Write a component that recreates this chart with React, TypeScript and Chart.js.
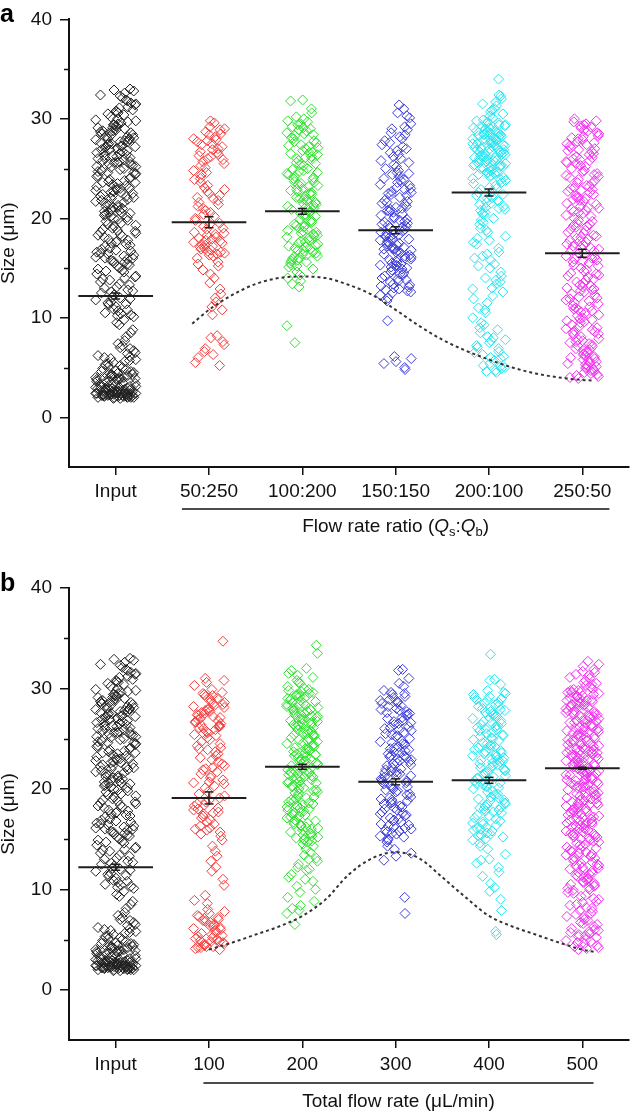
import { useEffect, useRef } from "react";
import { Chart, registerables } from "chart.js";

Chart.register(...registerables);

const FONT = '"Liberation Sans", Arial, Helvetica, sans-serif';

// ---------- categories & ticks ----------
const CATS_A = ["Input", "50:250", "100:200", "150:150", "200:100", "250:50"];
const CATS_B = ["Input", "100", "200", "300", "400", "500"];
const Y_TICKS = [0, 10, 20, 30, 40];
const Y_MINOR = [5, 15, 25, 35];
const COLORS = ["#202020", "#f23c3c", "#2ee02e", "#3c3cd8", "#28e4ef", "#ee30ee"];

// ---------- measured sizes (µm) ----------
const INPUT_SIZES = [
  2.1, 2.3, 1.9, 2.6, 2.2, 2.8, 2.4, 2.0, 3.1, 2.5, 2.2, 2.7, 2.9, 2.3, 2.1, 3.3, 2.6, 2.4, 2.0, 2.8,
  2.2, 2.5, 3.0, 2.3, 2.7, 1.9, 2.4, 2.6, 3.2, 2.1, 2.9, 2.2, 2.5, 2.8, 2.3, 3.4, 2.0, 2.6, 2.4, 2.7,
  2.2, 3.0, 2.5, 2.1, 2.8, 2.3, 2.6, 3.5, 2.4, 2.2, 2.9, 2.0, 2.7, 2.5, 3.1, 2.3, 2.6, 2.1, 2.8, 2.4,
  3.3, 2.2, 2.5, 3.6, 2.9, 2.3, 2.7, 2.0, 3.0, 2.4,
  3.7, 4.1, 3.9, 4.5, 3.8, 4.8, 5.2, 4.3, 3.9, 5.6, 4.0, 4.6, 6.1, 3.8, 5.0, 4.4, 5.4, 4.2, 6.4, 3.9, 4.7, 5.8, 4.1, 5.3, 6.0,
  3.6, 4.0, 4.3, 4.9, 5.5, 3.8, 4.2, 5.1, 5.7, 6.2, 4.6, 3.9, 4.4, 5.9, 6.5,
  6.7, 7.4, 8.1, 7.0, 8.8, 9.3, 7.7, 9.8, 8.5, 6.9, 9.5, 7.2,
  10.2, 11.5, 12.8, 10.8, 13.6, 11.1, 14.2, 12.3, 10.5, 13.0, 14.7, 11.8, 12.6, 13.9, 10.9, 14.4, 12.1, 11.3, 13.3, 14.9, 12.5, 10.4, 13.8, 11.6, 14.1,
  10.1, 10.7, 11.4, 12.0, 12.7, 13.4, 14.0, 14.6, 10.3, 11.9, 13.1, 14.8,
  15.2, 16.4, 17.8, 15.9, 18.6, 16.8, 19.3, 15.5, 17.2, 18.1, 19.7, 16.1, 17.5, 18.9, 15.7, 16.6, 19.0, 17.9, 15.3, 18.3, 16.9, 19.5, 17.0, 15.8, 18.7, 16.3, 19.9, 17.4, 18.4, 16.0,
  15.0, 15.6, 16.2, 16.7, 17.3, 17.7, 18.2, 18.8, 19.4, 19.8, 15.4, 16.5, 17.6, 18.5, 19.2, 16.0,
  20.3, 21.5, 22.8, 20.9, 23.6, 21.1, 24.2, 22.3, 20.6, 23.0, 24.7, 21.8, 22.6, 23.9, 20.2, 24.4, 22.1, 21.3, 23.3, 24.9, 22.5, 20.8, 23.8, 21.6, 24.1, 20.5, 22.9, 21.0, 23.5, 24.6, 21.9, 20.1, 22.2, 23.1, 24.5,
  20.0, 20.4, 20.7, 21.2, 21.7, 22.0, 22.4, 22.7, 23.2, 23.4, 23.7, 24.0, 24.3, 24.8, 20.6, 21.4, 22.6, 23.6, 24.6, 21.1, 22.2, 23.0,
  25.3, 26.5, 27.8, 25.9, 28.6, 26.1, 29.2, 27.3, 25.6, 28.0, 29.7, 26.8, 27.6, 28.9, 25.2, 29.4, 27.1, 26.3, 28.3, 29.9, 27.5, 25.8, 28.8, 26.6, 29.1, 25.5, 27.9, 26.0, 28.5, 29.6, 26.9, 25.1, 27.2, 28.1, 29.5, 26.4, 27.7, 28.4, 25.7, 29.0,
  25.0, 25.4, 25.7, 26.2, 26.7, 27.0, 27.4, 27.7, 28.2, 28.7, 29.3, 29.8, 25.6, 26.0, 26.6, 27.2, 27.9, 28.4, 28.8, 29.4, 25.2, 26.3, 27.5, 28.0, 29.1, 26.9, 27.3, 28.6,
  30.2, 31.4, 32.8, 30.6, 31.9, 32.3, 30.9, 31.1, 32.6, 30.4, 31.6, 33.0, 30.7, 32.1,
  30.0, 30.5, 31.2, 31.8, 32.4, 30.8, 31.5, 32.9,
];

const RATIO_50_250 = [
  5.2, 5.5, 6.0, 6.3, 6.6, 6.9, 7.3, 7.6, 8.0, 8.2,
  10.3, 10.8, 11.1, 11.6, 12.0, 12.4, 12.9, 13.5, 14.0, 14.4, 14.8,
  15.2, 15.6, 16.0, 16.3, 16.5, 16.7, 16.9, 17.1, 17.4, 17.6, 17.8, 18.0, 18.3, 18.6, 18.9, 19.2, 19.5, 19.8, 15.4, 16.2, 17.0, 17.3, 18.5, 19.0, 16.8,
  16.4, 17.2, 17.5, 17.9, 18.1, 18.4, 16.6, 17.7, 19.4,
  20.2, 20.6, 21.0, 21.4, 21.8, 22.1, 22.5, 22.9, 23.3, 23.6, 24.0, 24.4, 24.8, 20.8, 21.6, 22.7, 23.9, 24.6, 20.4, 22.3,
  20.0, 21.2, 22.0, 23.1,
  25.1, 25.5, 25.9, 26.2, 26.6, 26.9, 27.2, 27.5, 27.9, 28.2, 28.5, 28.9, 29.2, 29.6, 29.8, 25.7, 26.4, 27.0, 27.7, 28.4, 29.0, 26.0,
  25.3, 26.7, 27.4, 28.0, 28.7, 26.3, 27.8,
];

const RATIO_100_200 = [
  7.5, 9.2, 13.1, 13.4, 13.7, 14.0, 14.3, 14.6, 14.9,
  15.1, 15.3, 15.6, 15.8, 16.0, 16.2, 16.5, 16.7, 16.9, 17.1, 17.3, 17.6, 17.8, 18.0, 18.2, 18.4, 18.7, 18.9, 19.1, 19.3, 19.6, 19.8,
  15.5, 16.4, 17.4, 18.5, 19.4, 16.1, 17.0, 18.1, 19.0, 15.9, 17.7, 18.8, 19.9, 15.2, 16.6, 17.2,
  15.7, 16.3, 16.8, 17.5, 18.3, 18.6, 19.2, 19.7,
  20.0, 20.2, 20.4, 20.6, 20.8, 21.0, 21.3, 21.5, 21.7, 21.9, 22.1, 22.4, 22.6, 22.8, 23.0, 23.3, 23.5, 23.7, 24.0, 24.2, 24.5, 24.7, 24.9,
  20.5, 21.2, 22.0, 22.9, 23.9, 24.4, 20.9, 21.8, 22.7, 23.4, 24.6, 21.4,
  20.3, 20.7, 21.1, 21.6, 22.2, 22.5, 23.2, 23.6, 24.1, 24.8,
  25.0, 25.3, 25.6, 25.9, 26.2, 26.5, 26.8, 27.1, 27.4, 27.7, 28.0, 28.3, 28.6, 28.9, 29.2, 29.5, 29.8,
  25.4, 26.0, 26.7, 27.3, 28.1, 28.8, 29.4, 25.8, 26.4, 27.6, 28.5, 29.0, 27.0,
  25.5, 26.1, 26.6, 27.2, 27.8, 28.4, 29.1, 29.7, 30.0,
  30.2, 30.6, 31.0, 31.8, 31.9,
];

const RATIO_150_150 = [
  4.8, 5.0, 5.4, 5.6, 5.9, 6.1, 9.7,
  11.7, 12.0, 12.3, 12.5, 12.8, 13.0, 13.2, 13.4, 13.6, 13.8, 14.0, 14.2, 14.4, 14.6, 14.8, 12.6, 13.3, 13.9, 14.5, 12.9,
  13.1, 13.7, 14.3, 14.9, 12.7,
  15.0, 15.2, 15.4, 15.6, 15.8, 16.0, 16.2, 16.4, 16.6, 16.8, 17.0, 17.2, 17.4, 17.6, 17.8, 18.0, 18.2, 18.4, 18.6, 18.8, 19.0, 19.2, 19.4, 19.6, 19.8,
  15.1, 15.5, 15.9, 16.3, 16.7, 17.1, 17.5, 17.9, 18.3, 18.7, 19.1, 19.5, 19.9, 15.3, 16.5, 17.3, 18.1, 18.9, 19.7, 16.9,
  15.7, 16.1, 16.9, 17.7, 18.5, 19.3, 15.3, 17.0, 18.2,
  20.0, 20.3, 20.6, 20.9, 21.2, 21.5, 21.8, 22.1, 22.4, 22.7, 23.0, 23.3, 23.6, 23.9, 24.2, 24.5, 24.8,
  20.4, 21.0, 21.7, 22.3, 23.1, 23.8, 24.6, 20.7, 21.4, 22.9, 24.0, 21.1, 22.6,
  20.1, 20.8, 21.6, 22.5, 23.4, 24.4,
  25.0, 25.4, 25.8, 26.2, 26.6, 27.0, 27.4, 27.8, 28.2, 28.6, 29.0, 29.5, 30.1, 30.6, 31.0, 31.4, 25.6, 26.4, 27.2, 28.0, 28.9, 30.3,
  25.2, 26.0, 26.8, 27.6, 28.4, 29.2,
];

const RATIO_200_100 = [
  4.5, 4.7, 4.9, 5.1, 5.4, 5.7, 6.0, 6.3, 6.6, 6.9, 7.2, 7.5, 7.8, 8.1, 8.5, 9.0, 9.5, 10.0, 10.5, 11.0, 11.5, 11.9,
  4.6, 5.2, 5.9, 6.5, 7.0, 8.0, 9.3, 10.8, 5.0, 6.1, 7.7, 8.8,
  12.2, 12.6, 13.0, 13.4, 13.8, 14.2, 14.6, 15.0, 15.4, 15.8, 16.2, 16.6, 17.0, 17.4, 17.8, 18.2, 18.6, 19.0, 19.4, 19.8,
  12.9, 14.0, 15.2, 16.4, 17.6, 18.8, 19.6, 13.6, 16.0, 18.0,
  20.0, 20.3, 20.6, 20.9, 21.2, 21.5, 21.8, 22.1, 22.4, 22.7, 23.0, 23.3, 23.6, 23.9, 24.2, 24.5, 24.8,
  20.5, 21.0, 21.7, 22.3, 23.1, 23.8, 24.6, 20.8, 21.4, 22.9, 24.0, 21.1, 22.6, 22.0, 23.5, 21.6,
  25.0, 25.2, 25.4, 25.6, 25.8, 26.0, 26.2, 26.4, 26.6, 26.8, 27.0, 27.2, 27.4, 27.6, 27.8, 28.0, 28.2, 28.4, 28.6, 28.8, 29.0, 29.2, 29.4, 29.6, 29.8,
  25.1, 25.5, 25.9, 26.3, 26.7, 27.1, 27.5, 27.9, 28.3, 28.7, 29.1, 29.5, 29.9, 25.3, 26.1, 26.9, 27.7, 28.5, 26.5, 27.3,
  24.1, 24.3, 24.7, 24.9, 25.2, 25.5, 25.8, 26.1, 26.4, 26.7, 27.0, 27.3, 27.6, 27.9, 28.2, 28.5, 28.8, 29.1, 29.4, 29.7, 25.0, 26.0, 27.0, 28.0, 29.0,
  24.4, 24.6, 25.3, 25.7, 26.2, 26.6, 27.1, 27.5, 28.1, 28.4, 28.9, 29.3, 26.9, 27.8, 28.6,
  30.1, 30.5, 30.9, 31.3, 31.7, 32.0, 32.3, 30.3, 31.0, 30.7, 31.5, 32.4, 34.0,
];

const RATIO_250_50 = [
  3.9, 4.1, 4.3, 4.5, 4.7, 4.9, 5.1, 5.3, 5.5, 5.7, 5.9, 6.1, 6.3, 6.5, 6.7, 6.9, 7.1, 7.3, 7.5, 7.7, 7.9, 8.1, 8.3, 8.5, 8.7, 8.9, 9.1, 9.3, 9.5, 9.7, 9.9,
  4.2, 4.8, 5.4, 6.0, 6.6, 7.2, 7.8, 8.4, 9.0, 9.6, 4.4, 5.0, 5.6, 6.2, 6.8, 7.4, 8.6, 4.6, 5.8,
  5.2, 6.4, 7.6, 8.8, 9.8, 4.0,
  10.0, 10.3, 10.6, 10.9, 11.2, 11.5, 11.8, 12.1, 12.4, 12.7, 13.0, 13.3, 13.6, 13.9, 14.2, 14.5, 14.8,
  10.2, 10.8, 11.4, 12.0, 12.6, 13.2, 13.8, 14.4, 10.5, 11.1, 11.7, 12.3, 12.9, 13.5, 14.1, 14.7, 11.0, 12.8,
  10.7, 11.9, 13.1, 14.3,
  15.0, 15.3, 15.6, 15.9, 16.2, 16.5, 16.8, 17.1, 17.4, 17.7, 18.0, 18.3, 18.6, 18.9, 19.2, 19.5, 19.8,
  15.2, 15.8, 16.4, 17.0, 17.6, 18.2, 18.8, 19.4, 15.5, 16.1, 16.7, 17.3, 17.9, 18.5, 19.1, 19.7, 16.0, 17.8,
  15.7, 16.9, 18.1, 19.3, 17.2,
  20.0, 20.3, 20.6, 20.9, 21.2, 21.5, 21.8, 22.1, 22.4, 22.7, 23.0, 23.3, 23.6, 23.9, 24.2, 24.5, 24.8,
  20.2, 20.8, 21.4, 22.0, 22.6, 23.2, 23.8, 24.4, 20.5, 21.1, 21.7, 22.3, 22.9, 23.5, 24.1, 24.7, 21.0, 22.8,
  20.7, 21.9, 23.1, 24.3, 22.1,
  25.0, 25.3, 25.6, 25.9, 26.2, 26.5, 26.8, 27.1, 27.4, 27.7, 28.0, 28.3, 28.6, 28.9, 29.2, 29.5, 29.8,
  25.2, 25.8, 26.4, 27.0, 27.6, 28.2, 28.8, 29.4, 25.5, 26.1, 26.7, 27.3, 27.9, 28.5, 29.1, 29.7, 26.0, 30.0,
  25.7, 26.9, 28.1, 29.3, 27.5,
];

const FLOW_100 = [
  4.0, 4.1, 4.2, 4.3, 4.4, 4.5, 4.6, 4.7, 4.8, 5.0, 5.2, 5.4, 5.5, 5.7, 5.9, 6.0, 6.2, 6.4, 6.5, 6.7, 6.9, 7.0, 7.2, 7.4, 7.6, 7.8, 8.0,
  4.2, 4.9, 5.6, 6.1, 6.8, 7.3, 8.6, 8.9, 4.3, 4.5, 4.8, 5.1, 5.3, 6.3, 7.1,
  9.4, 10.4, 11.0, 12.8, 13.3, 14.3, 14.9, 11.8, 12.2, 13.8,
  15.3, 15.7, 16.1, 16.5, 16.9, 17.3, 17.7, 18.1, 18.5, 18.9, 19.3, 19.7, 15.5, 16.3, 17.1, 17.9, 18.7, 19.5, 16.7, 18.3, 15.9, 17.5, 19.1, 16.0, 18.0,
  17.6, 18.4,
  20.1, 20.5, 20.9, 21.3, 21.7, 22.1, 22.5, 22.9, 23.3, 23.7, 24.1, 24.5, 24.9, 20.3, 21.1, 21.9, 22.7, 23.5, 24.3, 20.7, 22.3, 23.9, 21.5, 23.1, 24.7,
  20.6, 22.0, 24.0,
  25.1, 25.4, 25.7, 26.0, 26.3, 26.6, 26.9, 27.2, 27.5, 27.8, 28.1, 28.4, 28.7, 29.0, 29.3, 29.6, 29.9,
  25.3, 25.9, 26.5, 27.1, 27.7, 28.3, 28.9, 29.5, 26.2, 26.8, 27.4, 28.0, 28.6, 25.6, 26.4, 27.0, 27.6, 28.2, 29.2, 26.1, 27.9, 30.3, 30.6,
  25.5, 26.2, 26.7, 27.3, 28.5, 29.4,
  31.0, 30.8, 34.7,
];

const FLOW_200 = [
  6.5, 7.6, 7.9, 8.1, 8.4, 9.2, 9.7, 10.3, 10.8, 11.2, 11.5, 11.9, 12.2, 12.5, 12.8, 13.1, 13.4, 13.7, 14.0, 10.0, 11.0, 12.0, 13.0, 8.8, 14.3,
  14.5, 14.7, 14.9, 15.1, 15.3, 15.5, 15.7, 15.9, 16.1, 16.3, 16.5, 16.7, 16.9, 17.1, 17.3, 17.5, 17.7, 17.9, 18.1, 18.3, 18.5, 18.7, 18.9, 19.1, 19.3, 19.5, 19.7, 19.9,
  15.0, 15.6, 16.2, 16.8, 17.4, 18.0, 18.6, 19.2, 19.8, 15.4, 16.6, 17.8, 19.0, 14.8, 16.0, 17.2, 18.4,
  15.2, 16.4, 17.6, 18.8, 19.6, 18.2,
  20.0, 20.2, 20.4, 20.6, 20.8, 21.0, 21.2, 21.4, 21.6, 21.8, 22.0, 22.2, 22.4, 22.6, 22.8, 23.0, 23.2, 23.4, 23.6, 23.8, 24.0, 24.2, 24.4, 24.6, 24.8,
  20.1, 20.5, 20.9, 21.3, 21.7, 22.1, 22.5, 22.9, 23.3, 23.7, 24.1, 24.5, 24.9, 20.3, 21.1, 21.9, 22.7, 23.5, 24.3, 20.7, 22.3, 23.9, 21.5, 23.1, 24.7,
  20.6, 21.2, 22.0, 22.8, 23.4, 24.0, 21.6,
  25.0, 25.2, 25.4, 25.6, 25.8, 26.0, 26.2, 26.4, 26.6, 26.8, 27.0, 27.2, 27.4, 27.6, 27.8, 28.0, 28.2, 28.4, 28.6, 28.8, 29.0, 29.2, 29.4, 29.6, 29.8,
  25.1, 25.5, 25.9, 26.3, 26.7, 27.1, 27.5, 27.9, 28.3, 28.7, 29.1, 29.5, 29.9, 25.3, 26.1, 26.9, 27.7, 28.5, 29.3, 25.7, 27.3, 28.9, 26.5, 28.1, 29.7,
  25.4, 26.4, 27.4, 28.4, 29.4, 28.0, 27.0,
  30.2, 30.5, 30.8, 31.1, 31.5, 31.8, 32.0, 31.3, 30.6, 33.5, 34.3, 30.0,
];

const FLOW_300 = [
  7.6, 9.2, 12.9, 13.3, 13.6, 14.0, 14.3, 14.7,
  15.0, 15.3, 15.6, 15.9, 16.2, 16.5, 16.8, 17.1, 17.4, 17.7, 18.0, 18.3, 18.6, 18.9, 19.2, 19.5, 19.8,
  15.2, 15.8, 16.4, 17.0, 17.6, 18.2, 18.8, 19.4, 15.5, 16.7, 17.9, 19.1, 16.1, 17.3, 18.5, 19.7, 16.0, 18.1,
  14.9, 15.7, 16.3, 17.5, 18.7, 19.9, 16.9, 19.0,
  20.0, 20.3, 20.6, 20.9, 21.2, 21.5, 21.8, 22.1, 22.4, 22.7, 23.0, 23.3, 23.6, 23.9, 24.2, 24.5, 24.8,
  20.2, 20.8, 21.4, 22.0, 22.6, 23.2, 23.8, 24.4, 20.5, 21.7, 22.9, 24.1, 21.1, 22.3, 23.5, 24.7, 20.1, 21.9, 23.7, 21.0, 22.5, 24.0, 23.1,
  20.7, 21.6, 22.8, 23.3, 24.6, 21.3,
  25.0, 25.3, 25.6, 25.9, 26.2, 26.5, 26.8, 27.1, 27.4, 27.7, 28.0, 28.3, 28.6, 28.9, 29.2, 29.5, 29.8,
  25.2, 25.8, 26.4, 27.0, 27.6, 28.2, 28.8, 29.4, 25.5, 26.7, 27.9, 29.1, 26.1, 27.3, 28.5, 26.0, 27.8, 29.6,
  25.4, 26.6, 27.5, 28.7,
  30.2, 30.5, 31.0, 31.8, 31.9,
];

const FLOW_400 = [
  5.5, 5.8, 7.9, 9.0, 9.8, 10.2, 10.6, 11.3, 11.7, 12.2, 12.6, 13.0, 13.5, 14.0, 14.3, 14.6, 12.9, 14.9,
  15.0, 15.3, 15.6, 15.9, 16.2, 16.5, 16.8, 17.1, 17.4, 17.7, 18.0, 18.3, 18.6, 18.9, 19.2, 19.5, 19.8,
  15.2, 15.8, 16.4, 17.0, 17.6, 18.2, 18.8, 19.4, 15.5, 16.7, 17.9, 19.1, 16.1, 17.3, 18.5, 19.7, 16.0, 18.1,
  15.4, 16.6, 17.8, 19.0, 18.4,
  20.0, 20.2, 20.4, 20.6, 20.8, 21.0, 21.2, 21.4, 21.6, 21.8, 22.0, 22.2, 22.4, 22.6, 22.8, 23.0, 23.2, 23.4, 23.6, 23.8, 24.0, 24.2, 24.4, 24.6, 24.8,
  20.1, 20.5, 20.9, 21.3, 21.7, 22.1, 22.5, 22.9, 23.3, 23.7, 24.1, 24.5, 24.9, 20.3, 21.5, 22.7, 23.9, 21.1, 22.3, 23.5,
  20.7, 21.9, 23.1, 24.3, 22.9,
  25.0, 25.3, 25.6, 25.9, 26.2, 26.5, 26.8, 27.1, 27.4, 27.7, 28.0, 28.3, 28.6, 28.9, 29.2, 29.5, 29.8,
  25.2, 25.8, 26.4, 27.0, 27.6, 28.2, 28.8, 29.4, 25.5, 26.7, 27.9, 29.1, 26.1, 27.3, 28.5, 26.0, 27.8, 29.6, 25.1, 26.3, 27.5,
  25.4, 26.6, 27.2, 28.4, 29.0,
  30.4, 30.8, 30.9, 33.4,
];

const FLOW_500 = [
  4.0, 4.2, 4.4, 4.6, 4.8, 5.0, 5.2, 5.4, 5.6, 5.8, 6.0, 6.3, 6.6, 6.9, 7.2, 7.5, 7.8, 8.1, 8.4, 8.7, 9.0, 9.3, 9.6, 9.9,
  4.3, 4.9, 5.5, 6.1, 6.7, 7.3, 7.9, 8.5, 9.1, 9.7, 5.7,
  4.1, 4.7, 5.3, 5.9, 6.5, 7.0, 7.6, 8.2, 8.8, 9.4,
  10.0, 10.2, 10.4, 10.6, 10.8, 11.0, 11.2, 11.4, 11.6, 11.8, 12.0, 12.2, 12.4, 12.6, 12.8, 13.0, 13.2, 13.4, 13.6, 13.8, 14.0, 14.2, 14.4, 14.6, 14.8,
  10.1, 10.5, 10.9, 11.3, 11.7, 12.1, 12.5, 12.9, 13.3, 13.7, 14.1, 14.5, 14.9, 11.5, 13.1,
  10.3, 10.7, 11.1, 11.9, 12.3, 12.7, 13.5, 13.9, 14.3, 14.7,
  15.0, 15.2, 15.4, 15.6, 15.8, 16.0, 16.2, 16.4, 16.6, 16.8, 17.0, 17.2, 17.4, 17.6, 17.8, 18.0, 18.2, 18.4, 18.6, 18.8, 19.0, 19.2, 19.4, 19.6, 19.8,
  15.1, 15.3, 15.5, 15.7, 15.9, 16.1, 16.3, 16.5, 16.7, 16.9, 17.1, 17.3, 17.5, 17.7, 17.9, 18.1, 18.3, 18.5, 18.7, 18.9, 19.1, 19.3, 19.5, 19.7, 19.9,
  15.6, 16.6, 17.6, 18.6, 19.6, 15.2, 16.4, 17.0, 18.0, 19.0, 16.0, 17.4, 18.4, 19.4,
  20.0, 20.2, 20.4, 20.6, 20.8, 21.0, 21.2, 21.4, 21.6, 21.8, 22.0, 22.2, 22.4, 22.6, 22.8, 23.0, 23.2, 23.4, 23.6, 23.8, 24.0, 24.2, 24.4, 24.6, 24.8,
  20.1, 20.3, 20.5, 20.7, 20.9, 21.1, 21.3, 21.5, 21.7, 21.9, 22.1, 22.3, 22.5, 22.7, 22.9, 23.1, 23.3, 23.5, 23.7, 23.9, 24.1, 24.3, 24.5, 24.7, 24.9,
  20.4, 21.4, 22.4, 23.4, 24.4, 20.9, 21.9, 22.9, 23.9, 24.9,
  20.6, 21.6, 22.0, 22.6, 23.0, 23.6, 24.0, 24.6, 21.0, 23.2, 20.2, 21.8, 23.8,
  25.0, 25.2, 25.4, 25.6, 25.8, 26.0, 26.2, 26.4, 26.6, 26.8, 27.0, 27.2, 27.4, 27.6, 27.8, 28.0, 28.2, 28.4, 28.6, 28.8, 29.0, 29.2, 29.4, 29.6, 29.8,
  25.1, 25.3, 25.5, 25.7, 25.9, 26.1, 26.3, 26.5, 26.7, 26.9, 27.1, 27.3, 27.5, 27.7, 27.9, 28.1, 28.3, 28.5, 28.7, 28.9, 29.1, 29.3, 29.5, 29.7, 29.9,
  25.6, 26.6, 27.6, 28.6, 29.6,
  25.2, 25.8, 26.2, 26.8, 27.2, 27.8, 28.2, 28.8, 29.2, 29.8, 26.0, 27.4, 28.4,
  30.1, 30.3, 30.5, 30.8, 31.0, 31.3, 31.6, 31.9, 32.2, 32.7, 30.6, 31.4, 30.0, 30.4, 31.1, 31.7, 32.4,
];

// ---------- means & standard errors ----------
const MEAN_A = [12.2, 19.6, 20.7, 18.8, 22.6, 16.5];
const ERR_A = [0.3, 0.55, 0.3, 0.35, 0.35, 0.4];
const MEAN_B = [12.2, 19.1, 22.2, 20.7, 20.85, 22.05];
const ERR_B = [0.3, 0.6, 0.25, 0.3, 0.3, 0.1];

// ---------- fitted curves ----------
const FIT_A_X = [0.82, 1.0, 1.25, 1.5, 1.75, 2.0, 2.25, 2.5, 2.75, 3.0, 3.25, 3.5, 3.75, 4.0, 4.25, 4.5, 4.75, 5.0, 5.1];
const FIT_A_Y = [9.4, 10.8, 12.3, 13.4, 14.0, 14.15, 14.0, 13.3, 12.3, 10.8, 9.2, 7.8, 6.7, 5.8, 5.0, 4.4, 4.0, 3.75, 3.7];
const FIT_B_X = [1.0, 1.25, 1.5, 1.75, 2.0, 2.25, 2.5, 2.75, 3.0, 3.25, 3.5, 3.75, 4.0, 4.25, 4.5, 4.75, 5.0, 5.14];
const FIT_B_Y = [4.0, 4.7, 5.5, 6.3, 7.35, 9.0, 11.5, 13.1, 13.7, 13.1, 11.2, 9.2, 7.35, 6.3, 5.5, 4.7, 4.0, 3.75];

// ---------- axis titles ----------
const TITLE_A: [string, string][] = [["Flow rate ratio (", "n"], ["Q", "i"], ["s", "sub"], [":", "n"], ["Q", "i"], ["b", "sub"], [")", "n"]];
const TITLE_B: [string, string][] = [["Total flow rate (\u03bcL/min)", "n"]];
const Y_TITLE = "Size (\u03bcm)";

// horizontal scatter offsets (fraction of column half-width)
const JITTER = [0.12, -0.55, 0.83, -0.21, 0.40, -0.92, 0.05, 0.67, -0.38, 0.26, -0.74, 0.95, -0.08, 0.51, -0.47, 0.18, -0.63, 0.74, -0.15, 0.33, -0.86, 0.59, -0.29, 0.02, 0.88, -0.51, 0.22, -0.97, 0.44, -0.11, 0.70, -0.34, 0.09, -0.69, 0.57, -0.24, 0.98];
const SPREAD = [0.22, 0.17, 0.17, 0.17, 0.18, 0.18];
const MEAN_HALF = 0.4;

const PANELS = [
  {
    letter: "a", cats: CATS_A,
    groups: [INPUT_SIZES, RATIO_50_250, RATIO_100_200, RATIO_150_150, RATIO_200_100, RATIO_250_50],
    mean: MEAN_A, err: ERR_A, fitX: FIT_A_X, fitY: FIT_A_Y, title: TITLE_A,
    line: [0.71, 5.29], top: 0, padTop: 14, xAxisH: 90, ulOff: 42, titleOff: 60,
  },
  {
    letter: "b", cats: CATS_B,
    groups: [INPUT_SIZES, FLOW_100, FLOW_200, FLOW_300, FLOW_400, FLOW_500],
    mean: MEAN_B, err: ERR_B, fitX: FIT_B_X, fitY: FIT_B_Y, title: TITLE_B,
    line: [0.94, 5.12], top: 557, padTop: 31, xAxisH: 74, ulOff: 43, titleOff: 62,
  },
];

function decorPlugin(p: any) {
  return {
    id: "decor" + p.letter,
    afterDraw(chart: any) {
      const ctx = chart.ctx;
      const { left, top, bottom } = chart.chartArea;
      const xs = chart.scales.x;
      const ys = chart.scales.y;
      ctx.save();
      ctx.strokeStyle = "#111";
      ctx.fillStyle = "#111";
      ctx.lineWidth = 1.5;
      Y_MINOR.forEach((v) => {
        const y = Math.round(ys.getPixelForValue(v)) + 0.5;
        ctx.beginPath();
        ctx.moveTo(left - 5, y);
        ctx.lineTo(left, y);
        ctx.stroke();
      });
      ctx.fillStyle = "#000";
      ctx.font = `bold 25px ${FONT}`;
      ctx.textAlign = "left";
      ctx.textBaseline = "alphabetic";
      ctx.fillText(p.letter, 0, top + 3);
      ctx.fillStyle = "#111";
      ctx.save();
      ctx.translate(9, (top + bottom) / 2);
      ctx.rotate(-Math.PI / 2);
      ctx.font = `19px ${FONT}`;
      ctx.textAlign = "center";
      ctx.textBaseline = "middle";
      ctx.fillText(Y_TITLE, 0, 0);
      ctx.restore();
      const x0 = xs.getPixelForValue(p.line[0]);
      const x1 = xs.getPixelForValue(p.line[1]);
      const uy = bottom + p.ulOff;
      ctx.lineWidth = 1.6;
      ctx.beginPath();
      ctx.moveTo(x0, uy);
      ctx.lineTo(x1, uy);
      ctx.stroke();
      const fontFor = (s: string) =>
        s === "i" ? `italic 19px ${FONT}` : s === "sub" ? `13px ${FONT}` : `19px ${FONT}`;
      let total = 0;
      p.title.forEach(([t, s]: [string, string]) => {
        ctx.font = fontFor(s);
        total += ctx.measureText(t).width;
      });
      let x = (x0 + x1) / 2 - total / 2;
      const ty = bottom + p.titleOff;
      ctx.textAlign = "left";
      ctx.textBaseline = "middle";
      p.title.forEach(([t, s]: [string, string]) => {
        ctx.font = fontFor(s);
        ctx.fillText(t, x, s === "sub" ? ty + 5 : ty);
        x += ctx.measureText(t).width;
      });
      ctx.restore();
    },
  };
}

function buildConfig(p: any): any {
  const datasets: any[] = [];
  datasets.push({
    data: p.fitX.map((x: number, i: number) => ({ x, y: p.fitY[i] })),
    showLine: true, borderColor: "#333", borderWidth: 2, borderDash: [3, 3],
    pointRadius: 0, cubicInterpolationMode: "monotone", fill: false,
  });
  p.mean.forEach((m: number, g: number) => {
    datasets.push({
      data: [{ x: g - MEAN_HALF, y: m }, { x: g + MEAN_HALF, y: m }],
      showLine: true, borderColor: "#1e1e1e", borderWidth: 2, pointRadius: 0,
    });
    datasets.push({
      data: [{ x: g, y: m - p.err[g] }, { x: g, y: m + p.err[g] }],
      showLine: true, borderColor: "#1e1e1e", borderWidth: 1.5,
      pointStyle: "line", pointRadius: 4.5, pointBorderWidth: 1.5, pointBorderColor: "#1e1e1e",
    });
  });
  p.groups.forEach((vals: number[], g: number) => {
    datasets.push({
      data: vals.map((y, i) => ({ x: g + JITTER[(i * 13 + g * 7) % JITTER.length] * SPREAD[g], y })),
      showLine: false, pointStyle: "rectRot", pointRadius: 5, pointBorderWidth: 1,
      pointBorderColor: COLORS[g], pointBackgroundColor: "rgba(0,0,0,0)",
      borderColor: COLORS[g], backgroundColor: "rgba(0,0,0,0)",
    });
  });
  const tickFont = { family: FONT, size: 19 };
  return {
    type: "scatter",
    data: { datasets },
    options: {
      animation: false, responsive: false, devicePixelRatio: 1, events: [],
      layout: { padding: { top: p.padTop, left: 0, right: 2, bottom: 0 } },
      plugins: { legend: { display: false }, tooltip: { enabled: false } },
      scales: {
        x: {
          type: "linear", min: -0.5, max: 5.5,
          afterBuildTicks: (s: any) => { s.ticks = p.cats.map((_: string, i: number) => ({ value: i })); },
          afterFit: (s: any) => { s.height = p.xAxisH; },
          ticks: { autoSkip: false, maxRotation: 0, padding: 5, color: "#111", font: tickFont, callback: (v: number) => p.cats[v] },
          grid: { display: true, drawOnChartArea: false, drawTicks: true, tickLength: 8, color: "#111", lineWidth: 1.5 },
          border: { display: true, color: "#111", width: 2 },
        },
        y: {
          type: "linear", min: -5, max: 40,
          afterBuildTicks: (s: any) => { s.ticks = Y_TICKS.map((v) => ({ value: v })); },
          afterFit: (s: any) => { s.width = 69; },
          ticks: { padding: 8, color: "#111", font: tickFont, callback: (v: number) => String(v) },
          grid: { display: true, drawOnChartArea: false, drawTicks: true, tickLength: 9, color: "#111", lineWidth: 1.5 },
          border: { display: true, color: "#111", width: 2 },
        },
      },
    },
    plugins: [decorPlugin(p)],
  };
}

function Panel({ def }: { def: any }) {
  const ref = useRef<HTMLCanvasElement>(null);
  useEffect(() => {
    const chart = new Chart(ref.current as HTMLCanvasElement, buildConfig(def));
    return () => chart.destroy();
  }, [def]);
  return (
    <canvas
      ref={ref}
      width={635}
      height={557}
      style={{ position: "absolute", left: 0, top: def.top, width: 635, height: 557, display: "block" }}
    />
  );
}

export default function App() {
  return (
    <div style={{ position: "absolute", left: 0, top: 0, width: 635, height: 1114, background: "#fff" }}>
      {PANELS.map((p) => (
        <Panel key={p.letter} def={p} />
      ))}
    </div>
  );
}
